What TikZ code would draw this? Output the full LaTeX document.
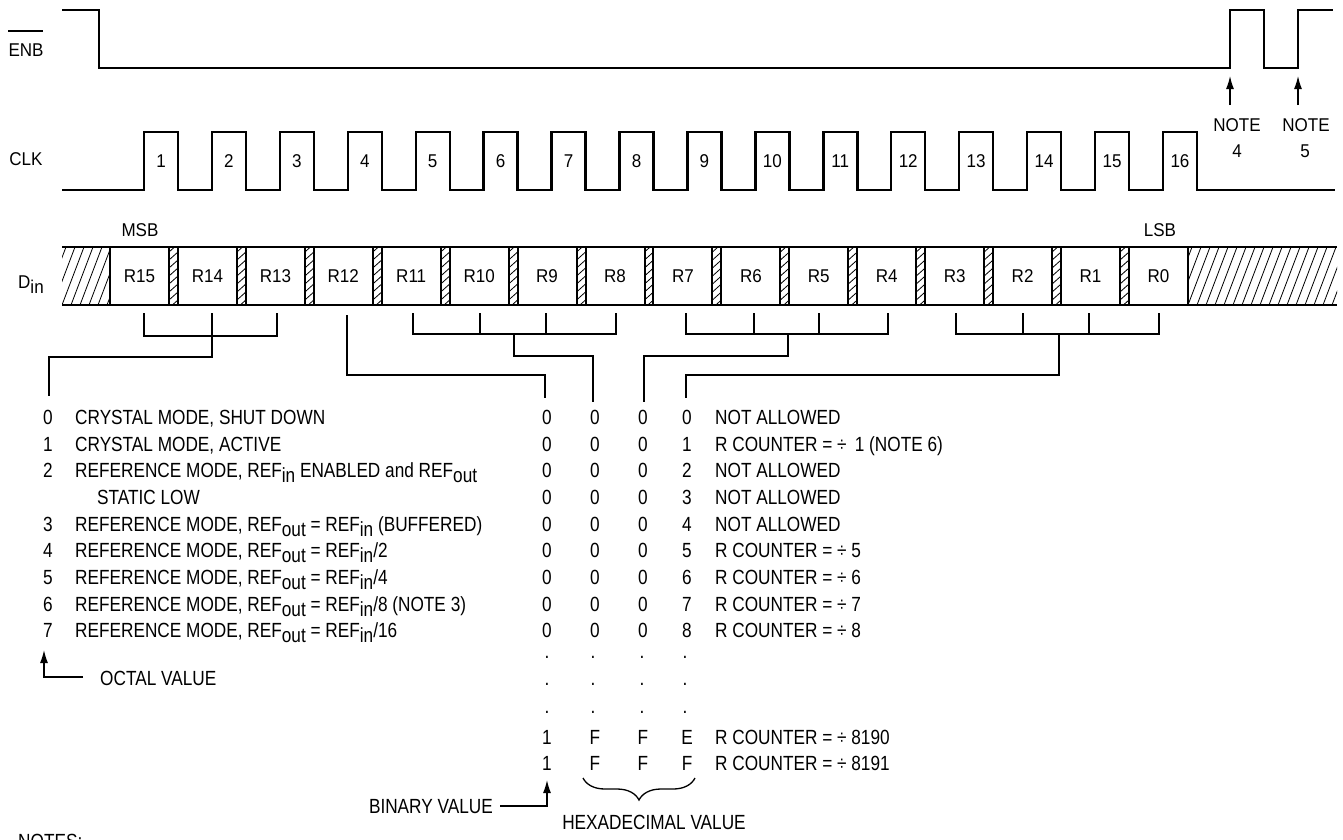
\documentclass[tikz,border=0pt]{standalone}
\usepackage{fontspec}
\setmainfont{Liberation Sans}[FakeStretch=0.84]
\newfontfamily\topf{Liberation Sans}[FakeStretch=0.92]
\usetikzlibrary{arrows.meta,decorations.pathreplacing}
\newcommand{\lsub}[1]{\raisebox{-5pt}{#1}}
\begin{document}
\begin{tikzpicture}[x=1pt,y=-1pt,
  txt/.style={inner sep=0pt, anchor=base, font=\fontsize{20.5}{24}\selectfont},
  txtw/.style={txt, anchor=base west},
  tlab/.style={inner sep=0pt, anchor=base, font=\topf\fontsize{18.5}{22}\selectfont},
  sig/.style={line width=2.4pt, line join=miter},
  brk/.style={line width=1.3pt},
  regbox/.style={draw, line width=2pt, minimum width=59pt, minimum height=58pt, inner sep=0pt, font=\topf\fontsize{18.5}{22}\selectfont},
  arr/.style={line width=1.3pt, -{Latex[length=13pt,width=8pt]}},
  hat/.style={line width=0.8pt}]
\useasboundingbox (0,0) rectangle (1343,839);

% ---- ENB ----
\node[tlab] (enb) at (26,56) {ENB};
\draw[line width=1.2pt] (enb.north west) ++(0,-12) coordinate (ol) -- ++(35,0);
\draw[sig] (62,10) -- (99,10) -- (99,68) -- (1230,68) -- (1230,10) -- (1264,10) -- (1264,68) -- (1298,68) -- (1298,10) -- (1333,10);

% ---- CLK ----
\node[tlab] (clk) at (26,165) {CLK};
\draw[sig] (62,190) \foreach \k in {0,...,15} { -- ({144+67.93*\k},190) -- ({144+67.93*\k},132) -- ({178+67.93*\k},132) -- ({178+67.93*\k},190) } -- (1335,190);
\foreach \k in {1,...,16} \node[tlab] (c\k) at ({161+67.93*(\k-1)},167) {\k};

% ---- notes 4,5 ----
\coordinate (n4tip) at (1230,76);
\coordinate (n5tip) at (1298,76);
\node[tlab] (n4a) at (1237,131) {NOTE};
\node[tlab] (n4b) at (1237,157) {4};
\node[tlab] (n5a) at (1306,131) {NOTE};
\node[tlab] (n5b) at (1305,157) {5};
\draw[arr] (1230,105) -- (n4tip);
\draw[arr] (1298,105) -- (n5tip);

% ---- Din ----
\node[tlab] (msb) at (140,236) {MSB};
\node[tlab] (lsb) at (1160,236) {LSB};
\node[tlab, anchor=base west] (din) at (18,288) {D\lsub{in}};

\begin{scope}
\clip (62,247) rectangle (110,305);
\foreach \i in {-3,...,6} \draw[hat] ({62+9*\i},305) -- ({62+9*\i+22},247);
\end{scope}
\begin{scope}
\clip (1188,247) rectangle (1337,305);
\foreach \i in {-3,...,17} \draw[hat] ({1188+9*\i},305) -- ({1188+9*\i+22},247);
\end{scope}
\foreach \j in {0,...,14} {
  \begin{scope}
  \clip ({169+67.93*\j},247) rectangle ({177.93+67.93*\j},305);
  \foreach \t in {0,...,7} \draw[hat] ({169+67.93*\j},{252+8*\t}) -- ({177.93+67.93*\j},{244+8*\t});
  \end{scope}
}
\foreach \j in {0,...,15} {
  \pgfmathtruncatemacro\n{15-\j}
  \node[regbox] (r\n) at ({139.5+67.93*\j},276) {R\n};
}
\draw[line width=2.4pt] (62,247) -- (1337,247);
\draw[line width=2.4pt] (62,305) -- (1337,305);

% ---- brackets ----
\draw[brk] (144,313) -- (144,336) -- (277,336) -- (277,313);
\draw[brk] (212,313) -- (212,357) -- (49,357) -- (49,396);
\draw[brk] (347,315) -- (347,375) -- (545,375) -- (545,398);
\draw[brk] (413,313) -- (413,334) -- (616,334) -- (616,313);
\draw[brk] (480,313) -- (480,334);
\draw[brk] (546,313) -- (546,334);
\draw[brk] (514,334) -- (514,356) -- (593,356) -- (593,402);
\draw[brk] (686,313) -- (686,334) -- (888,334) -- (888,313);
\draw[brk] (754,313) -- (754,334);
\draw[brk] (819,313) -- (819,334);
\draw[brk] (788,334) -- (788,356) -- (644,356) -- (644,402);
\draw[brk] (956,313) -- (956,334) -- (1159,334) -- (1159,313);
\draw[brk] (1023,313) -- (1023,334);
\draw[brk] (1089,313) -- (1089,334);
\draw[brk] (1059,334) -- (1059,375) -- (686,375) -- (686,398);

% ---- left table ----
\node[txt] (o0) at (48,424.5) {0};
\node[txtw] (d0) at (75,424.5) {CRYSTAL MODE, SHUT DOWN};
\node[txt] (o1) at (48,451.2) {1};
\node[txtw] (d1) at (75,451.2) {CRYSTAL MODE, ACTIVE};
\node[txt] (o2) at (48,477.8) {2};
\node[txtw] (d2) at (75,477.8) {REFERENCE MODE, REF\lsub{in} ENABLED and REF\lsub{out}};
\node[txtw] (d2b) at (97,504.5) {STATIC LOW};
\node[txt] (o3) at (48,531.2) {3};
\node[txtw] (d3) at (75,531.2) {REFERENCE MODE, REF\lsub{out} = REF\lsub{in} (BUFFERED)};
\node[txt] (o4) at (48,557.8) {4};
\node[txtw] (d4) at (75,557.8) {REFERENCE MODE, REF\lsub{out} = REF\lsub{in}/2};
\node[txt] (o5) at (48,584.5) {5};
\node[txtw] (d5) at (75,584.5) {REFERENCE MODE, REF\lsub{out} = REF\lsub{in}/4};
\node[txt] (o6) at (48,611.2) {6};
\node[txtw] (d6) at (75,611.2) {REFERENCE MODE, REF\lsub{out} = REF\lsub{in}/8 (NOTE 3)};
\node[txt] (o7) at (48,637.8) {7};
\node[txtw] (d7) at (75,637.8) {REFERENCE MODE, REF\lsub{out} = REF\lsub{in}/16};
\draw[arr] (83,677) -- (44,677) -- (44,650);
\node[txtw] (oct) at (100,685.5) {OCTAL VALUE};

% ---- right table ----
\foreach \i/\txt in {0/NOT ALLOWED, 1/{R COUNTER = ÷\, 1 (NOTE 6)}, 2/NOT ALLOWED, 3/NOT ALLOWED, 4/NOT ALLOWED, 5/{R COUNTER = ÷ 5}, 6/{R COUNTER = ÷ 6}, 7/{R COUNTER = ÷ 7}, 8/{R COUNTER = ÷ 8}} {
  \node[txt] (b\i) at (547,{424.5+26.67*\i}) {0};
  \node[txt] (h\i a) at (595,{424.5+26.67*\i}) {0};
  \node[txt] (h\i b) at (643,{424.5+26.67*\i}) {0};
  \node[txt] (h\i c) at (687,{424.5+26.67*\i}) {\i};
  \node[txtw] (t\i) at (715,{424.5+26.67*\i}) {\txt};
}
\foreach \y [count=\r] in {658.5,685.5,713.5} {
  \node[txt] (dotb\r) at (547,\y) {.};
  \node[txt] (dota\r) at (593,\y) {.};
  \node[txt] (dotc\r) at (642,\y) {.};
  \node[txt] (dotd\r) at (685,\y) {.};
}
\node[txt] (b12) at (547,744.5) {1};
\node[txt] (h12a) at (595,744.5) {F};
\node[txt] (h12b) at (643,744.5) {F};
\node[txt] (h12c) at (687,744.5) {E};
\node[txtw] (t12) at (715,744.5) {R COUNTER = ÷ 8190};
\node[txt] (b13) at (547,770.5) {1};
\node[txt] (h13a) at (595,770.5) {F};
\node[txt] (h13b) at (643,770.5) {F};
\node[txt] (h13c) at (687,770.5) {F};
\node[txtw] (t13) at (715,770.5) {R COUNTER = ÷ 8191};

\draw[arr] (500,806) -- (547,806) -- (547,780);
\node[txt, anchor=base east] (bin) at (493,813) {BINARY VALUE};
\draw[brk, decorate, decoration={brace, mirror, amplitude=22pt}] (583,778) -- (695,778);
\node[txt] (hex) at (654,829.5) {HEXADECIMAL VALUE};
\node[txtw] (notes) at (18,848) {NOTES:};
\end{tikzpicture}
\end{document}
